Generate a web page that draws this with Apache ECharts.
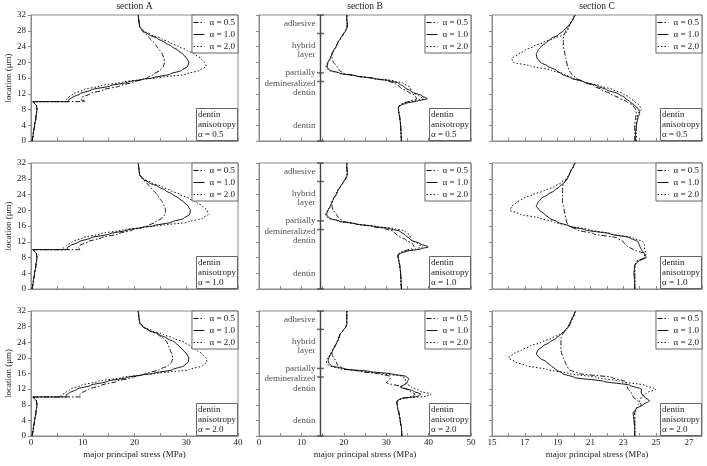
<!DOCTYPE html>
<html><head><meta charset="utf-8">
<script src="https://cdn.jsdelivr.net/npm/echarts@6/dist/echarts.min.js"></script>
<style>html,body{margin:0;padding:0;background:#fff}#c{width:707px;height:466px}</style>
</head><body><div id="c"></div>
<script>
// ---------- labels ----------
const seriesNames = ['α = 0.5', 'α = 1.0', 'α = 2.0'];
const sectionNames = ['section A', 'section B', 'section C'];
const anisotropyValues = ['0.5', '1.0', '2.0'];
const xAxisTitle = 'major principal stress (MPa)';
const yAxisTitle = 'location (μm)';
const regionNames = ['adhesive', 'hybrid\nlayer', 'partially', 'demineralized\ndentin', 'dentin'];
const regionLoc = [29.7, 23.05, 17.3, 13.45, 3.9];
const boundaryLoc = [0, 15.1, 17.3, 27.3, 32];
const innerAxisX = 14.5;

// ---------- section A (location values, then stress per alpha) ----------
const locA = [0, 2, 4, 6, 8, 9, 9.7, 10, 10, 10.5, 11, 12, 13, 14, 15, 15.7, 16, 17, 18, 19, 20, 21, 22, 23, 24, 25, 26, 27, 28, 29, 30, 31, 32];
const A1_05 = [0.2, 0.45, 0.7, 0.95, 1.15, 1.05, 0.6, 0.3, 10.5, 9.7, 9.8, 11.4, 14.0, 17.2, 19.8, 21.7, 22.4, 23.7, 25.0, 25.6, 25.8, 25.7, 25.4, 24.9, 24.3, 23.7, 23.0, 22.3, 21.5, 21.0, 20.9, 20.8, 20.7];
const A1_10 = [0.2, 0.45, 0.7, 0.95, 1.15, 1.05, 0.6, 0.3, 7.3, 7.3, 7.9, 9.5, 11.7, 15.3, 18.8, 21.7, 23.4, 26.9, 29.2, 30.3, 30.5, 30.1, 29.4, 28.4, 27.2, 25.9, 24.5, 22.8, 21.6, 21.0, 20.9, 20.8, 20.7];
const A1_20 = [0.2, 0.45, 0.7, 0.95, 1.15, 1.05, 0.6, 0.3, 6.8, 6.8, 7.2, 8.2, 10.1, 13.4, 17.8, 21.7, 24.3, 30.1, 32.7, 33.9, 33.5, 32.8, 31.7, 30.2, 28.5, 26.8, 25.2, 23.2, 21.7, 21.0, 20.9, 20.8, 20.7];
const A2_05 = [0.2, 0.45, 0.7, 0.95, 1.15, 1.05, 0.6, 0.3, 9.6, 9.2, 9.4, 11.0, 13.6, 16.8, 19.6, 21.7, 22.5, 24.0, 25.3, 25.9, 26.0, 25.8, 25.4, 24.9, 24.3, 23.7, 23.0, 22.3, 21.5, 21.0, 20.9, 20.8, 20.7];
const A2_10 = [0.2, 0.45, 0.7, 0.95, 1.15, 1.05, 0.6, 0.3, 7.0, 7.0, 7.6, 9.3, 11.6, 15.2, 18.7, 21.7, 23.5, 27.2, 29.6, 30.7, 30.8, 30.4, 29.6, 28.6, 27.4, 26.0, 24.6, 22.8, 21.6, 21.0, 20.9, 20.8, 20.7];
const A2_20 = [0.2, 0.45, 0.7, 0.95, 1.15, 1.05, 0.6, 0.3, 6.3, 6.3, 6.8, 8.0, 10.0, 13.3, 17.7, 21.7, 24.4, 30.4, 33.2, 34.3, 34.0, 33.2, 32.0, 30.5, 28.8, 27.0, 25.3, 23.3, 21.7, 21.0, 20.9, 20.8, 20.7];
const A3_05 = [0.2, 0.45, 0.7, 0.95, 1.15, 1.05, 0.6, 0.3, 9.6, 9.4, 9.8, 11.2, 13.6, 16.6, 19.6, 21.6, 22.4, 24.8, 26.5, 27.2, 27.4, 27.2, 26.9, 26.6, 26.3, 25.6, 24.5, 22.8, 21.6, 21.0, 20.9, 20.8, 20.7];
const A3_10 = [0.2, 0.45, 0.7, 0.95, 1.15, 1.05, 0.6, 0.3, 6.8, 6.8, 7.4, 8.9, 11.6, 14.8, 18.6, 21.6, 23.6, 27.4, 29.6, 30.4, 30.5, 30.1, 29.4, 28.6, 27.8, 26.3, 24.8, 22.9, 21.6, 21.0, 20.9, 20.8, 20.7];
const A3_20 = [0.2, 0.45, 0.7, 0.95, 1.15, 1.05, 0.6, 0.3, 5.8, 5.8, 6.6, 7.6, 9.8, 13.0, 17.6, 21.6, 24.4, 30.6, 33.2, 34.0, 33.8, 33.1, 32.0, 30.8, 29.6, 27.6, 25.6, 23.3, 21.7, 21.0, 20.9, 20.8, 20.7];

// ---------- section B ----------
const locB = [0, 2, 4, 6, 7, 8, 8.7, 9.2, 9.6, 10.2, 10.7, 11.5, 12.5, 13.6, 14.7, 15.3, 15.9, 16.5, 17.2, 18, 18.7, 19.3, 20, 21, 22, 23, 24, 25, 26, 27, 28, 28.6, 29, 30, 31, 32];
const B1_05 = [33.6, 33.5, 33.4, 33.2, 33.0, 32.9, 32.9, 33.3, 34.0, 35.8, 37.2, 36.8, 35.2, 33.3, 32.1, 30.1, 27.0, 23.0, 19.9, 18.9, 18.5, 18.1, 17.5, 17.2, 17.2, 17.6, 18.2, 18.6, 19.2, 19.8, 20.4, 20.7, 20.8, 20.8, 20.7, 20.7];
const B1_10 = [33.6, 33.5, 33.4, 33.2, 33.0, 32.9, 32.9, 33.6, 34.8, 37.5, 39.7, 38.4, 36.0, 34.4, 32.9, 30.9, 27.0, 23.0, 19.1, 16.7, 16.1, 16.1, 16.3, 16.8, 17.2, 17.6, 18.2, 18.6, 19.2, 19.8, 20.4, 20.7, 20.8, 20.8, 20.7, 20.7];
const B1_20 = [33.6, 33.5, 33.4, 33.2, 33.0, 32.9, 32.9, 33.4, 34.2, 36.6, 38.8, 37.6, 36.0, 35.6, 34.0, 31.7, 27.0, 23.0, 18.8, 16.4, 15.8, 15.9, 16.2, 16.8, 17.2, 17.6, 18.2, 18.6, 19.2, 19.8, 20.4, 20.7, 20.8, 20.8, 20.7, 20.7];
const B2_05 = [33.6, 33.5, 33.4, 33.2, 33.0, 32.8, 32.8, 33.2, 34.2, 35.9, 36.6, 36.2, 34.6, 32.6, 31.6, 29.8, 26.8, 22.8, 19.9, 18.8, 18.4, 18.0, 17.5, 17.2, 17.2, 17.6, 18.2, 18.6, 19.2, 19.8, 20.4, 20.7, 20.8, 20.8, 20.7, 20.7];
const B2_10 = [33.6, 33.5, 33.4, 33.2, 33.0, 32.8, 32.8, 33.6, 35.0, 38.2, 39.9, 38.0, 35.8, 34.6, 33.2, 31.0, 27.0, 23.0, 19.0, 16.6, 16.0, 16.0, 16.3, 16.8, 17.2, 17.6, 18.2, 18.6, 19.2, 19.8, 20.4, 20.7, 20.8, 20.8, 20.7, 20.7];
const B2_20 = [33.6, 33.5, 33.4, 33.2, 33.0, 32.8, 32.8, 33.4, 34.4, 37.0, 38.6, 37.4, 35.8, 35.6, 34.4, 32.3, 27.6, 23.2, 18.8, 16.3, 15.7, 15.8, 16.2, 16.8, 17.2, 17.6, 18.2, 18.6, 19.2, 19.8, 20.4, 20.7, 20.8, 20.8, 20.7, 20.7];
const B3_05 = [33.7, 33.6, 33.3, 33.0, 32.7, 32.6, 32.5, 32.8, 33.8, 36.2, 36.8, 35.6, 34.1, 30.1, 30.9, 30.9, 28.3, 24.0, 20.2, 18.6, 18.3, 18.1, 17.6, 17.2, 17.4, 17.9, 18.4, 18.8, 19.1, 19.8, 20.5, 20.7, 20.7, 20.7, 20.7, 20.7];
const B3_10 = [33.7, 33.6, 33.3, 33.0, 32.7, 32.6, 32.5, 32.8, 33.6, 37.5, 38.2, 36.4, 33.3, 34.9, 35.3, 34.6, 31.2, 26.2, 20.0, 17.0, 16.5, 16.3, 16.5, 16.9, 17.4, 17.9, 18.4, 18.8, 19.1, 19.8, 20.5, 20.7, 20.7, 20.7, 20.7, 20.7];
const B3_20 = [33.7, 33.6, 33.3, 33.0, 32.7, 32.6, 32.5, 32.8, 34.0, 39.5, 40.6, 38.0, 36.0, 34.5, 34.5, 33.8, 29.5, 24.5, 19.2, 16.5, 16.0, 15.9, 16.2, 16.9, 17.4, 17.9, 18.4, 18.8, 19.1, 19.8, 20.5, 20.7, 20.7, 20.7, 20.7, 20.7];

// ---------- section C ----------
const locC = [0, 2, 4, 6, 7, 8, 9, 10, 11, 12, 13, 14, 15, 16, 17, 18, 19, 20, 21, 22, 23, 24, 25, 26, 27, 28, 29, 30, 31, 32];
const C1_05 = [23.7, 23.7, 23.7, 23.75, 23.8, 23.75, 23.6, 23.2, 22.7, 22.2, 21.7, 21.2, 20.6, 20.1, 19.85, 19.7, 19.6, 19.55, 19.5, 19.45, 19.4, 19.35, 19.35, 19.35, 19.4, 19.5, 19.65, 19.8, 19.95, 20.07];
const C1_10 = [23.75, 23.75, 23.8, 23.9, 24.0, 23.95, 23.7, 23.4, 23.1, 22.7, 22.0, 21.4, 20.6, 19.8, 19.25, 18.9, 18.4, 17.95, 17.75, 17.7, 17.8, 18.0, 18.3, 18.6, 19.05, 19.35, 19.6, 19.8, 19.95, 20.07];
const C1_20 = [23.8, 23.8, 23.8, 23.85, 23.9, 24.1, 24.0, 23.7, 23.4, 23.0, 22.4, 21.6, 20.6, 19.9, 19.4, 18.6, 17.4, 16.3, 16.2, 16.6, 17.0, 17.5, 18.1, 18.7, 19.4, 19.6, 19.7, 19.8, 19.95, 20.07];
const C2_05 = [23.7, 23.7, 23.7, 23.7, 23.8, 24.3, 24.3, 23.6, 23.2, 23.0, 22.6, 21.2, 20.2, 19.7, 19.55, 19.5, 19.45, 19.4, 19.35, 19.3, 19.3, 19.3, 19.3, 19.3, 19.4, 19.55, 19.7, 19.8, 19.95, 20.07];
const C2_10 = [23.7, 23.7, 23.65, 23.7, 23.9, 24.4, 24.3, 24.1, 24.0, 23.9, 23.4, 22.2, 20.7, 19.7, 19.0, 18.5, 18.2, 17.9, 17.7, 17.8, 18.0, 18.4, 18.8, 19.1, 19.4, 19.6, 19.7, 19.8, 19.95, 20.07];
const C2_20 = [23.7, 23.7, 23.7, 23.7, 23.9, 24.3, 24.4, 24.3, 24.3, 24.2, 23.6, 22.3, 21.0, 19.7, 18.8, 17.9, 16.7, 16.1, 16.2, 16.5, 16.9, 17.5, 18.2, 18.8, 19.2, 19.5, 19.7, 19.8, 19.95, 20.07];
const C3_05 = [23.7, 23.7, 23.7, 23.7, 23.8, 24.1, 23.9, 23.6, 23.5, 23.3, 23.2, 23.1, 22.3, 20.3, 19.7, 19.55, 19.45, 19.35, 19.25, 19.2, 19.2, 19.2, 19.2, 19.3, 19.45, 19.65, 19.8, 19.9, 20.0, 20.1];
const C3_10 = [23.7, 23.7, 23.65, 23.6, 23.8, 24.2, 24.6, 24.3, 24.1, 24.1, 23.4, 21.8, 20.0, 19.3, 18.9, 18.6, 18.3, 17.9, 17.7, 17.8, 18.1, 18.5, 18.9, 19.2, 19.45, 19.65, 19.75, 19.85, 20.0, 20.1];
const C3_20 = [23.7, 23.7, 23.7, 23.7, 23.8, 23.9, 24.0, 24.1, 24.4, 25.0, 24.3, 22.8, 21.4, 19.7, 18.4, 17.1, 16.4, 16.0, 16.3, 16.8, 17.3, 18.0, 18.6, 19.1, 19.5, 19.7, 19.8, 19.9, 20.0, 20.1];

// ---------- assembly ----------
const locs = [locA, locB, locC];
const panelData = [
  [[A1_05, A1_10, A1_20], [B1_05, B1_10, B1_20], [C1_05, C1_10, C1_20]],
  [[A2_05, A2_10, A2_20], [B2_05, B2_10, B2_20], [C2_05, C2_10, C2_20]],
  [[A3_05, A3_10, A3_20], [B3_05, B3_10, B3_20], [C3_05, C3_10, C3_20]]
];

const W = 707, H = 466;
const colLeft = [31, 259, 492];
const colWidth = [207, 212, 210];
const rowTop = [15, 163, 311];
const rowHeight = [126, 126, 125];
const xMin = [0, 0, 15], xMax = [40, 50, 27.8], xStep = [5, 5, 1];
const FONT = 'Liberation Serif';
const TXT = '#1a1a1a';
const BORDER = '#8a8a8a';
const dashTypes = [[5, 2, 1.5, 2], 'solid', [1.5, 2]];

function xLabel(c) {
  return function (v) {
    const r = Math.round(v);
    if (Math.abs(v - r) > 1e-6) return '';
    if (c === 2) return ((r - 15) % 2 === 0) ? String(r) : '';
    return (r % 10 === 0) ? String(r) : '';
  };
}

const grid = [], xAxis = [], yAxis = [], series = [], legend = [], title = [];

for (let c = 0; c < 3; c++) {
  title.push({
    text: sectionNames[c], left: colLeft[c] + colWidth[c] / 2, top: 1, padding: 0, textAlign: 'center',
    textStyle: { fontFamily: FONT, fontSize: 9.5, fontWeight: 'normal', color: TXT }
  });
}

for (let r = 0; r < 3; r++) {
  for (let c = 0; c < 3; c++) {
    const i = r * 3 + c;
    grid.push({
      left: colLeft[c], top: rowTop[r], width: colWidth[c], height: rowHeight[r],
      show: true, borderColor: BORDER, borderWidth: 1, backgroundColor: 'transparent'
    });
    xAxis.push({
      gridIndex: i, type: 'value', min: xMin[c], max: xMax[c], interval: xStep[c],
      axisLine: { show: true, lineStyle: { color: BORDER, width: 1 } },
      axisTick: { show: true, inside: true, length: 3, lineStyle: { color: BORDER } },
      axisLabel: { show: r === 2, formatter: xLabel(c), margin: 2, fontFamily: FONT, fontSize: 9, color: TXT, showMaxLabel: c !== 2 },
      splitLine: { show: false },
      name: r === 2 ? xAxisTitle : '', nameLocation: 'middle', nameGap: 14,
      nameTextStyle: { fontFamily: FONT, fontSize: 9, color: TXT }
    });
    yAxis.push({
      gridIndex: i, type: 'value', min: 0, max: 32, interval: 4,
      axisLine: { show: true, lineStyle: { color: BORDER, width: 1 } },
      axisTick: { show: true, inside: false, length: 3, lineStyle: { color: BORDER } },
      axisLabel: { show: c === 0, margin: 5, fontFamily: FONT, fontSize: 9, color: TXT },
      splitLine: { show: false },
      name: c === 0 ? yAxisTitle : '', nameLocation: 'middle', nameGap: 15, nameRotate: 90,
      nameTextStyle: { fontFamily: FONT, fontSize: 9, color: TXT }
    });
    for (let s = 0; s < 3; s++) {
      const xs = panelData[r][c][s];
      const ys = locs[c];
      series.push({
        name: seriesNames[s], type: 'line', xAxisIndex: i, yAxisIndex: i,
        data: xs.map((v, k) => [v, ys[k]]),
        symbol: 'none', smooth: 0.25, smoothMonotone: 'y', silent: true,
        lineStyle: { color: '#111', width: 1, type: dashTypes[s] },
        itemStyle: { color: '#111' }, z: 3
      });
    }
    if (c === 1) {
      series.push({
        name: 'region axis', type: 'line', xAxisIndex: i, yAxisIndex: i,
        data: [[innerAxisX, 0], [innerAxisX, 32]], symbol: 'none', silent: true,
        lineStyle: { color: '#444', width: 1.4 }, z: 2
      });
      series.push({
        name: 'region ticks', type: 'scatter', xAxisIndex: i, yAxisIndex: i,
        data: boundaryLoc.map(v => [innerAxisX, v]), symbol: 'rect', symbolSize: [7, 1.5],
        itemStyle: { color: '#444' }, silent: true, z: 2
      });
      series.push({
        name: 'region labels', type: 'scatter', xAxisIndex: i, yAxisIndex: i,
        data: regionLoc.map((v, k) => ({ value: [innerAxisX, v], name: regionNames[k] })),
        symbolSize: 0, silent: true,
        label: {
          show: true, position: 'left', distance: 5, formatter: p => p.name, align: 'right',
          fontFamily: FONT, fontSize: 9, lineHeight: 9.5, color: TXT
        }
      });
    }
    const rightEdge = W - (colLeft[c] + colWidth[c]);
    legend.push({
      data: seriesNames, orient: 'vertical', right: rightEdge, top: rowTop[r],
      itemWidth: 11, itemHeight: 8, itemGap: 1, padding: [2, 3, 1, 1],
      borderColor: '#666', borderWidth: 1, backgroundColor: '#fff', selectedMode: false,
      itemStyle: { color: 'rgba(0,0,0,0)', borderColor: 'rgba(0,0,0,0)', borderWidth: 0 },
      lineStyle: { width: 1 },
      textStyle: { fontFamily: FONT, fontSize: 9, color: TXT, lineHeight: 11 }
    });
    title.push({
      text: 'dentin\nanisotropy\nα = ' + anisotropyValues[r],
      right: rightEdge, bottom: H - (rowTop[r] + rowHeight[r]),
      padding: [2, 2, 1, 2], borderColor: '#666', borderWidth: 1, backgroundColor: '#fff',
      textStyle: { fontFamily: FONT, fontSize: 9, fontWeight: 'normal', color: TXT, lineHeight: 10 }
    });
  }
}

const chart = echarts.init(document.getElementById('c'), null, { renderer: 'canvas' });
chart.setOption({ animation: false, backgroundColor: '#fff', title, legend, grid, xAxis, yAxis, series });
</script></body></html>
